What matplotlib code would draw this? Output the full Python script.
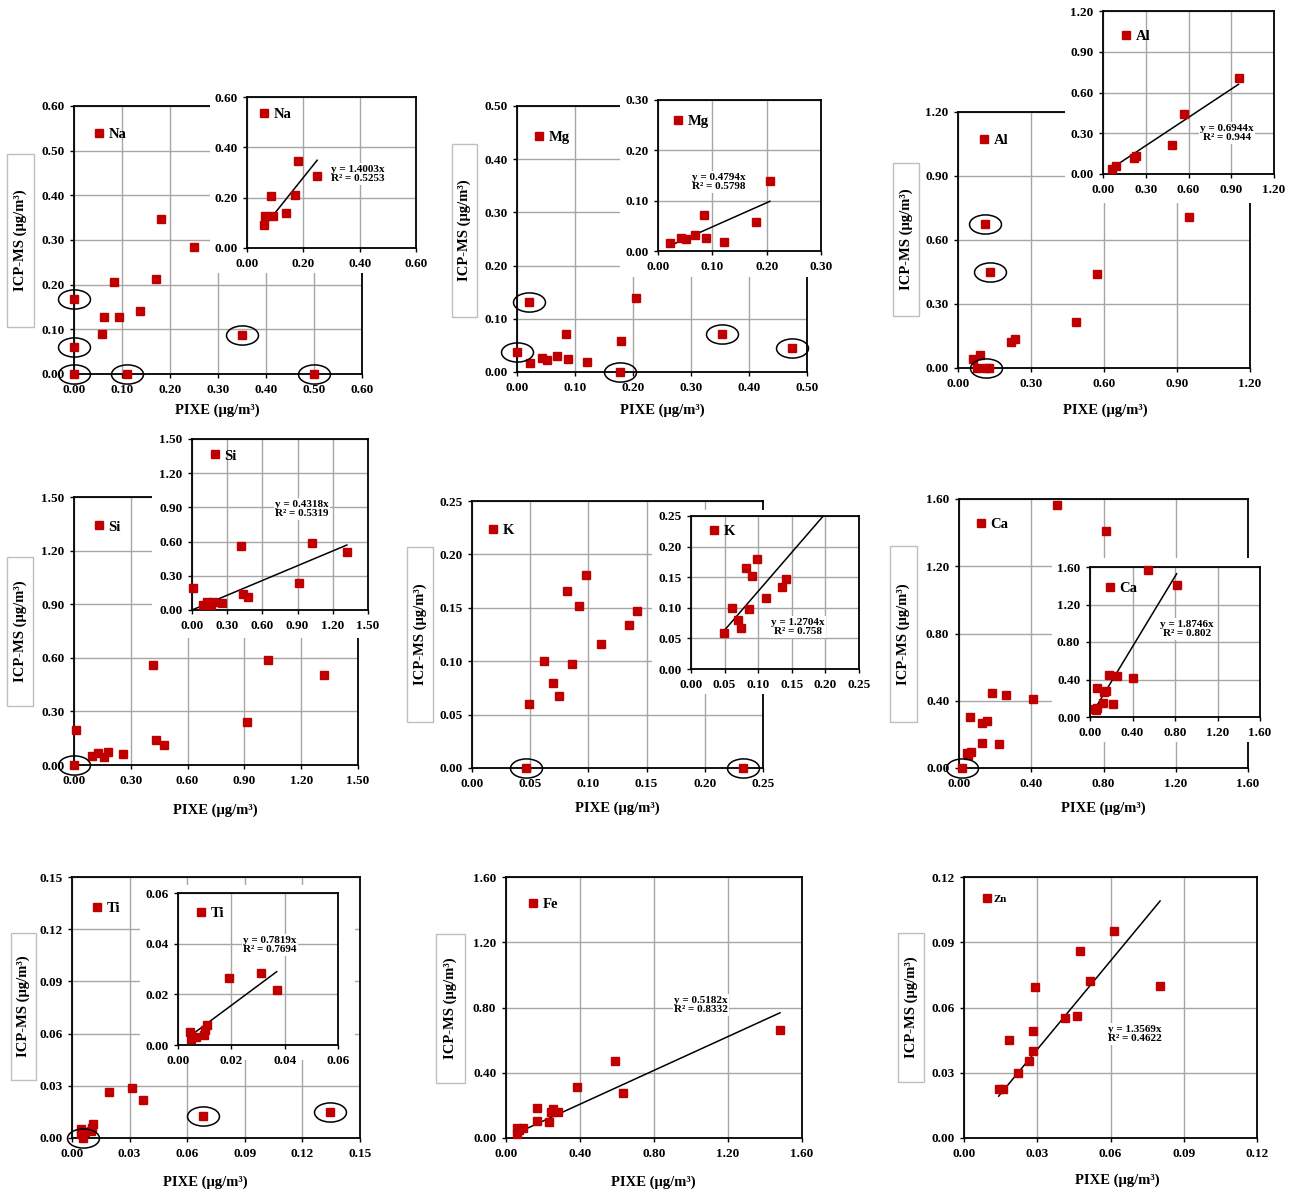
import numpy as np
import matplotlib
matplotlib.use('Agg')
import matplotlib.pyplot as plt
from matplotlib.path import Path
from matplotlib.transforms import Affine2D
from matplotlib.patches import Rectangle
from matplotlib.ticker import FormatStrFormatter

plt.rcParams['font.family'] = ['Liberation Serif', 'DejaVu Serif']
plt.rcParams['font.weight'] = 'bold'

# --- data (PIXE vs ICP-MS, ug/m3) ---
# *_out : points left out of the inset fit, *_circ : points ringed in the main plot
na_pixe = [0.000, 0.000, 0.000, 0.111, 0.499, 0.349, 0.181, 0.249, 0.084, 0.170, 0.063, 0.094, 0.059, 0.137]
na_icp = [0.168, 0.060, 0.000, 0.000, 0.000, 0.087, 0.347, 0.285, 0.206, 0.212, 0.127, 0.127, 0.090, 0.141]
na_out = [0, 1, 2, 3, 4, 5]
na_circ = na_out

mg_pixe = [0.021, 0.000, 0.177, 0.353, 0.474, 0.206, 0.022, 0.043, 0.052, 0.069, 0.085, 0.088, 0.121, 0.180]
mg_icp = [0.131, 0.038, 0.000, 0.071, 0.045, 0.140, 0.016, 0.026, 0.023, 0.031, 0.071, 0.025, 0.018, 0.058]
mg_out = [0, 1, 2, 3, 4]
mg_circ = mg_out

al_pixe = [0.110, 0.130, 0.077, 0.115, 0.128, 0.060, 0.091, 0.219, 0.234, 0.485, 0.570, 0.951]
al_icp = [0.673, 0.452, 0.000, 0.000, 0.000, 0.040, 0.060, 0.120, 0.135, 0.214, 0.440, 0.706]
al_out = [0, 1, 2, 3, 4]
al_circ = [0, 1, 3]

si_pixe = [0.000, 0.012, 0.097, 0.129, 0.158, 0.178, 0.258, 0.417, 0.431, 0.475, 0.914, 1.025, 1.320]
si_icp = [0.000, 0.195, 0.048, 0.067, 0.043, 0.071, 0.063, 0.562, 0.142, 0.110, 0.241, 0.589, 0.506]
si_out = [0]
si_circ = si_out

k_pixe = [0.046, 0.233, 0.0486, 0.0617, 0.0695, 0.0749, 0.0816, 0.0856, 0.0915, 0.0979, 0.111, 0.135, 0.1417]
k_icp = [0.000, 0.000, 0.0595, 0.1004, 0.0795, 0.0677, 0.1653, 0.0974, 0.152, 0.1803, 0.1165, 0.1335, 0.1474]
k_out = [0, 1]
k_circ = k_out

ca_pixe = [0.018, 0.045, 0.052, 0.064, 0.063, 0.130, 0.155, 0.126, 0.221, 0.183, 0.258, 0.408, 0.545, 0.815]
ca_icp = [0.000, 0.088, 0.076, 0.095, 0.305, 0.266, 0.281, 0.146, 0.140, 0.444, 0.434, 0.413, 1.563, 1.412]
ca_out = [0]
ca_circ = ca_out

ti_pixe = [0.0057, 0.068, 0.1344, 0.0046, 0.0048, 0.0068, 0.0098, 0.0102, 0.0110, 0.0193, 0.0312, 0.0370]
ti_icp = [0.000, 0.0128, 0.0149, 0.0051, 0.0025, 0.0033, 0.0040, 0.0058, 0.0080, 0.0265, 0.0285, 0.0218]
ti_out = [0, 1, 2]
ti_circ = ti_out

fe_pixe = [0.058, 0.061, 0.072, 0.090, 0.166, 0.166, 0.231, 0.245, 0.256, 0.283, 0.382, 0.590, 0.631, 1.481]
fe_icp = [0.027, 0.059, 0.051, 0.059, 0.186, 0.102, 0.098, 0.161, 0.176, 0.159, 0.313, 0.472, 0.276, 0.662]

zn_pixe = [0.0142, 0.0161, 0.0185, 0.0222, 0.0267, 0.0281, 0.0284, 0.0292, 0.0415, 0.0461, 0.0477, 0.0517, 0.0615, 0.0803]
zn_icp = [0.0227, 0.0227, 0.0449, 0.0297, 0.0352, 0.0490, 0.0401, 0.0693, 0.0550, 0.0559, 0.0859, 0.0724, 0.0951, 0.0698]

slopes = {'Na': 1.4003, 'Mg': 0.4794, 'Al': 0.6944, 'Si': 0.4318, 'K': 1.2704,
          'Ca': 1.8746, 'Ti': 0.7819, 'Fe': 0.5182, 'Zn': 1.3569}
r2 = {'Na': '0.5253', 'Mg': '0.5798', 'Al': '0.944', 'Si': '0.5319', 'K': '0.758',
      'Ca': '0.802', 'Ti': '0.7694', 'Fe': '0.8332', 'Zn': '0.4622'}

W, H = 1294, 1191
RED = '#C00000'
GRID = '#A6A6A6'

# layout in pixels: main axes, inset axes, white chart area of inset,
# legend marker (main / inset), trend text, y-label box, x-label centre
panels = [
    dict(el='Na', x=na_pixe, y=na_icp, out=na_out, circ=na_circ, main=(74, 106, 362, 374), mt=(0.6, 0.1, 0.6, 0.1),
         ins=(247, 97, 416, 248), it=(0.6, 0.2, 0.6, 0.2), white=(210, 86, 432, 273),
         leg=(99, 134), ileg=(264, 114), txt=(358, 174), ybox=(7, 154, 34, 327), xl=(217, 410)),
    dict(el='Mg', x=mg_pixe, y=mg_icp, out=mg_out, circ=mg_circ, main=(517, 106, 807, 372), mt=(0.5, 0.1, 0.5, 0.1),
         ins=(658, 100, 821, 251), it=(0.3, 0.1, 0.3, 0.1), white=(620, 88, 836, 277),
         leg=(539, 137), ileg=(678, 121), txt=(719, 182), ybox=(452, 144, 477, 317), xl=(662, 410)),
    dict(el='Al', x=al_pixe, y=al_icp, out=al_out, circ=al_circ, main=(958, 112, 1250, 368), mt=(1.2, 0.3, 1.2, 0.3),
         ins=(1103, 11, 1274, 174), it=(1.2, 0.3, 1.2, 0.3), white=(1065, 0, 1294, 203),
         leg=(984, 140), ileg=(1126, 36), txt=(1227, 133), ybox=(893, 163, 919, 316), xl=(1105, 410)),
    dict(el='Si', x=si_pixe, y=si_icp, out=si_out, circ=si_circ, main=(74, 497, 358, 765), mt=(1.5, 0.3, 1.5, 0.3),
         ins=(192, 439, 368, 610), it=(1.5, 0.3, 1.5, 0.3), white=(152, 430, 382, 638),
         leg=(99, 527), ileg=(215, 456), txt=(302, 509), ybox=(7, 557, 33, 706), xl=(215, 810)),
    dict(el='K', x=k_pixe, y=k_icp, out=k_out, circ=k_circ, main=(472, 501, 763, 768), mt=(0.25, 0.05, 0.25, 0.05),
         ins=(691, 516, 859, 669), it=(0.25, 0.05, 0.25, 0.05), white=(652, 510, 872, 694),
         leg=(493, 530), ileg=(714, 531), txt=(798, 627), ybox=(407, 547, 433, 722), xl=(617, 808),
         fit_end=0.2),
    dict(el='Ca', x=ca_pixe, y=ca_icp, out=ca_out, circ=ca_circ, main=(959, 499, 1248, 768), mt=(1.6, 0.4, 1.6, 0.4),
         ins=(1090, 567, 1260, 717), it=(1.6, 0.4, 1.6, 0.4), white=(1052, 558, 1294, 742),
         leg=(981, 524), ileg=(1110, 588), txt=(1187, 629), ybox=(890, 546, 917, 722), xl=(1103, 808)),
    dict(el='Ti', x=ti_pixe, y=ti_icp, out=ti_out, circ=ti_circ, main=(72, 877, 360, 1138), mt=(0.15, 0.03, 0.15, 0.03),
         ins=(178, 893, 338, 1045), it=(0.06, 0.02, 0.06, 0.02), white=(140, 885, 355, 1060),
         leg=(97, 908), ileg=(201, 913), txt=(270, 945), ybox=(11, 933, 36, 1080), xl=(205, 1182)),
    dict(el='Fe', x=fe_pixe, y=fe_icp, out=[], circ=[], main=(506, 877, 802, 1138), mt=(1.6, 0.4, 1.6, 0.4),
         ins=None, leg=(533, 904), txt=(701, 1005), ybox=(436, 934, 465, 1083), xl=(653, 1182)),
    dict(el='Zn', x=zn_pixe, y=zn_icp, out=[], circ=[], main=(964, 877, 1257, 1138), mt=(0.12, 0.03, 0.12, 0.03),
         ins=None, leg=(988, 899), txt=(1135, 1034), ybox=(898, 933, 924, 1082), xl=(1117, 1180),
         legsize=7.8),
]

fig = plt.figure(figsize=(W / 100, H / 100), dpi=100)
fig.patch.set_facecolor('white')


def fig_xy(x, y):
    return x / W, 1 - y / H


def px_axes(rect, **kw):
    l, t, r, b = rect
    return fig.add_axes([l / W, 1 - b / H, (r - l) / W, (b - t) / H], **kw)


def style(ax, ticks):
    xmax, xstep, ymax, ystep = ticks
    ax.set_xlim(0, xmax)
    ax.set_ylim(0, ymax)
    ax.set_xticks(np.round(np.arange(0, xmax + xstep / 2, xstep), 4))
    ax.set_yticks(np.round(np.arange(0, ymax + ystep / 2, ystep), 4))
    ax.xaxis.set_major_formatter(FormatStrFormatter('%.2f'))
    ax.yaxis.set_major_formatter(FormatStrFormatter('%.2f'))
    ax.grid(True, color=GRID, lw=1.0)
    ax.set_axisbelow(True)
    for s in ax.spines.values():
        s.set_color('black')
        s.set_linewidth(1.3)
    ax.tick_params(direction='out', length=3, width=1, labelsize=9.5, pad=4)


ellipse = Path.unit_circle().transformed(Affine2D().scale(1.0, 0.6))


def draw_points(ax, x, y, el, leg, size=10.5):
    h, = ax.plot(x, y, 's', color=RED, ms=5.3, ls='none', clip_on=False, zorder=3)
    ax.legend([h], [el], loc='center left', bbox_to_anchor=fig_xy(leg[0] - 5, leg[1]),
              bbox_transform=fig.transFigure, frameon=False, handlelength=0.7,
              handletextpad=0.3, borderpad=0, borderaxespad=0,
              prop=dict(size=size, weight='bold'))


def draw_fit(ax, el, x, fit_end=None):
    xs = np.array([min(x), fit_end if fit_end else max(x)])
    ax.plot(xs, slopes[el] * xs, color='black', lw=1.1, zorder=2)


for p in panels:
    el = p['el']
    x = np.array(p['x'])
    y = np.array(p['y'])
    keep = np.array([i not in p['out'] for i in range(len(x))])

    ax = px_axes(p['main'])
    style(ax, p['mt'])
    draw_points(ax, x, y, el, p['leg'], p.get('legsize', 10.5))
    if p['circ']:
        ax.plot(x[p['circ']], y[p['circ']], ls='none', marker=ellipse, ms=23, mfc='none',
                mec='black', mew=1.1, clip_on=False, zorder=4)

    if p['ins'] is not None:
        bg = px_axes(p['white'])
        bg.set_axis_off()
        bg.add_patch(Rectangle((0, 0), 1, 1, transform=bg.transAxes, fc='white', ec='none'))
        ia = px_axes(p['ins'])
        style(ia, p['it'])
        draw_points(ia, x[keep], y[keep], el, p['ileg'])
        draw_fit(ia, el, x[keep], p.get('fit_end'))
    else:
        draw_fit(ax, el, x)

    fig.text(*fig_xy(*p['txt']), 'y = %.4fx\nR² = %s' % (slopes[el], r2[el]), ha='center',
             va='center', fontsize=8, fontweight='bold', linespacing=1.1, zorder=10,
             bbox=dict(fc='white', ec='none', pad=1))

    l, t, r, b = p['ybox']
    fig.add_artist(Rectangle(fig_xy(l, b), (r - l) / W, (b - t) / H, transform=fig.transFigure,
                             fill=False, ec='#BFBFBF', lw=1.0))
    fig.text(*fig_xy((l + r) / 2, (t + b) / 2), 'ICP-MS (μg/m³)', rotation=90, ha='center',
             va='center', fontsize=10.5, fontweight='bold')
    fig.text(*fig_xy(*p['xl']), 'PIXE (μg/m³)', ha='center', va='center',
             fontsize=10.5, fontweight='bold')

fig.savefig('out.png', dpi=100)
